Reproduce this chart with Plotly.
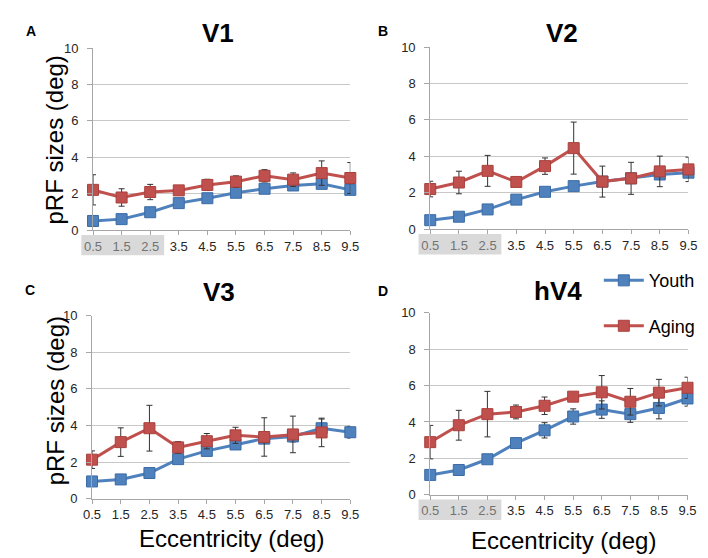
import plotly.graph_objects as go

# ---------------- data ----------------
ecc = [0.5, 1.5, 2.5, 3.5, 4.5, 5.5, 6.5, 7.5, 8.5, 9.5]
ecc_labels = ["0.5", "1.5", "2.5", "3.5", "4.5", "5.5", "6.5", "7.5", "8.5", "9.5"]
y_ticks = [0, 2, 4, 6, 8, 10]

panel_titles = ["V1", "V2", "V3", "hV4"]
panel_letters = ["A", "B", "C", "D"]
series_names = ["Youth", "Aging"]

v1_youth = [0.50, 0.60, 0.98, 1.48, 1.75, 2.05, 2.27, 2.45, 2.54, 2.21]
v1_youth_err = [0.10, 0.10, 0.12, 0.12, 0.15, 0.15, 0.15, 0.12, 0.15, 0.15]
v1_aging = [2.21, 1.79, 2.09, 2.18, 2.48, 2.66, 2.98, 2.77, 3.13, 2.86]
v1_aging_err = [0.83, 0.48, 0.42, 0.08, 0.31, 0.32, 0.34, 0.37, 0.67, 0.85]

v2_youth = [0.49, 0.68, 1.08, 1.62, 2.05, 2.36, 2.61, 2.79, 3.00, 3.10]
v2_youth_err = [0.08, 0.10, 0.12, 0.12, 0.12, 0.15, 0.15, 0.15, 0.15, 0.15]
v2_aging = [2.20, 2.56, 3.20, 2.59, 3.46, 4.45, 2.61, 2.79, 3.17, 3.28]
v2_aging_err = [0.43, 0.62, 0.85, 0.06, 0.45, 1.43, 0.85, 0.88, 0.84, 0.67]

v3_youth = [0.94, 1.05, 1.40, 2.16, 2.61, 2.96, 3.28, 3.40, 3.85, 3.63]
v3_youth_err = [0.10, 0.10, 0.12, 0.15, 0.20, 0.20, 0.25, 0.30, 0.50, 0.32]
v3_aging = [2.13, 3.09, 3.85, 2.80, 3.14, 3.46, 3.37, 3.51, 3.62, None]
v3_aging_err = [0.48, 0.78, 1.25, 0.32, 0.42, 0.44, 1.05, 1.00, 0.78, None]

v4_youth = [1.09, 1.36, 1.95, 2.84, 3.54, 4.30, 4.68, 4.43, 4.77, 5.29]
v4_youth_err = [0.10, 0.12, 0.12, 0.22, 0.42, 0.42, 0.48, 0.45, 0.60, 0.42]
v4_aging = [2.89, 3.82, 4.43, 4.55, 4.89, 5.39, 5.63, 5.11, 5.61, 5.88]
v4_aging_err = [0.92, 0.82, 1.25, 0.38, 0.48, 0.15, 0.92, 0.73, 0.73, 0.58]

youth_data = [(v1_youth, v1_youth_err), (v2_youth, v2_youth_err), (v3_youth, v3_youth_err), (v4_youth, v4_youth_err)]
aging_data = [(v1_aging, v1_aging_err), (v2_aging, v2_aging_err), (v3_aging, v3_aging_err), (v4_aging, v4_aging_err)]

# ---------------- layout helpers ----------------
W, H = 708, 558
def px(x):
    return x / W
def py(y):
    return 1 - y / H

# plot-area pixel boxes: (left, right, top, bottom)
boxes = [(78, 342, 34, 221), (424, 689, 33, 220), (77, 342, 309, 497), (424, 688, 306, 493)]
shaded = [True, True, False, True]

BLUE = "#4F81BD"
RED = "#C0504D"
FONT = "Liberation Sans, Arial, sans-serif"

fig = go.Figure()
layout = dict(
    width=W, height=H, margin=dict(l=0, r=0, t=0, b=0),
    paper_bgcolor="white", plot_bgcolor="white",
    font=dict(family=FONT, color="#222222"),
    annotations=[], shapes=[],
)

for i in range(4):
    l, r, t, b = boxes[i]
    sfx = "" if i == 0 else str(i + 1)
    xa, ya = "x" + sfx, "y" + sfx
    if shaded[i]:
        ticktext = [f"<span style='color:#737373'>{s}</span>" if k < 3 else s for k, s in enumerate(ecc_labels)]
    else:
        ticktext = ecc_labels
    layout["xaxis" + sfx] = dict(
        domain=[px(l), px(r)], anchor=ya, range=[0.5, 9.5],
        tickvals=ecc, ticktext=ticktext, showgrid=False, zeroline=False,
        showline=True, linecolor="#a6a6a6", linewidth=1,
        ticks="outside", ticklen=4, tickcolor="#a6a6a6",
        tickfont=dict(size=13, color="#262626", family=FONT),
    )
    layout["yaxis" + sfx] = dict(
        domain=[py(b), py(t)], anchor=xa, range=[0, 10],
        tickvals=y_ticks, showgrid=True, gridcolor="#c8c8c8", gridwidth=1,
        zeroline=False, showline=True, linecolor="#a6a6a6", linewidth=1,
        ticks="outside", ticklen=5, tickcolor="#a6a6a6", ticklabelstandoff=6,
        tickfont=dict(size=13, color="#262626", family=FONT),
    )
    for name, (vals, err), color, dark in [
        (series_names[0], youth_data[i], BLUE, "#3A6BA5"),
        (series_names[1], aging_data[i], RED, "#A8403D"),
    ]:
        fig.add_trace(go.Scatter(
            x=ecc, y=vals, name=name, mode="lines+markers",
            xaxis=xa, yaxis=ya, cliponaxis=False,
            line=dict(color=color, width=3),
            marker=dict(symbol="square", size=11, color=color, line=dict(color=dark, width=1)),
            error_y=dict(type="data", array=err, visible=True, color="#333333", thickness=1, width=3),
            showlegend=(i == 3), legendgroup=name,
        ))
    # panel letter
    layout["annotations"].append(dict(
        text=f"<b>{panel_letters[i]}</b>", xref="paper", yref="paper",
        x=px([14, 376, 13, 376][i]), y=py([16, 16, 283, 284][i]),
        showarrow=False, font=dict(size=14, color="black", family=FONT),
        xanchor="center", yanchor="middle"))
    # panel title
    layout["annotations"].append(dict(
        text=f"<b>{panel_titles[i]}</b>", xref="paper", yref="paper",
        x=px([206, 559, 207, 555][i]), y=py([18, 18, 285, 284][i]),
        showarrow=False, font=dict(size=26, color="black", family=FONT),
        xanchor="center", yanchor="middle"))
    if shaded[i]:
        layout["shapes"].append(dict(
            type="rect", xref="paper", yref="paper", layer="below",
            x0=px(l - 12), x1=px(l + 73),
            y0=py(b + 5), y1=py(b + 26),
            fillcolor="#d9d9d9", line=dict(width=0)))

# axis titles
for (x, y) in [(39, 129), (39, 397)]:
    layout["annotations"].append(dict(
        text="pRF sizes (deg)", xref="paper", yref="paper", x=px(x), y=py(y),
        textangle=-90, showarrow=False, font=dict(size=24, color="black", family=FONT),
        xanchor="center", yanchor="middle"))
for (x, y) in [(220, 538), (561, 540)]:
    layout["annotations"].append(dict(
        text="Eccentricity (deg)", xref="paper", yref="paper", x=px(x), y=py(y),
        showarrow=False, font=dict(size=24, color="black", family=FONT),
        xanchor="center", yanchor="middle"))

layout["legend"] = dict(
    x=px(597), y=py(254), xanchor="left", yanchor="top",
    bgcolor="white", borderwidth=0, tracegroupgap=19, itemwidth=40,
    font=dict(size=18, color="black", family=FONT),
)
layout["showlegend"] = True

fig.update_layout(**layout)
fig.write_html("out.html")
